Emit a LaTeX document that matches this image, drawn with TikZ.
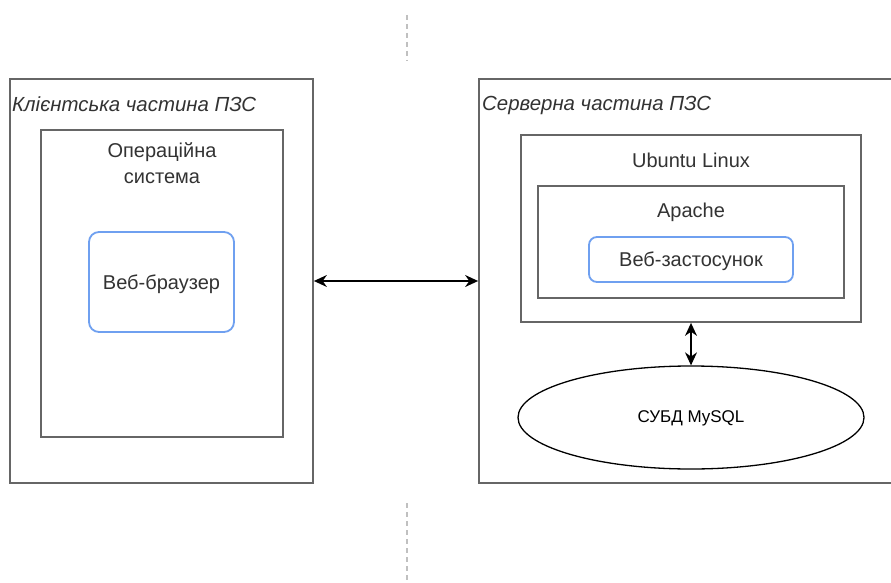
\documentclass[tikz,border=0pt]{standalone}
\usepackage{fontspec}
\setmainfont{Liberation Sans}
\usetikzlibrary{arrows.meta,shapes.geometric}
\definecolor{boxgray}{HTML}{666666}
\definecolor{txtgray}{HTML}{333333}
\definecolor{blueline}{HTML}{6FA0F0}
\definecolor{dashgray}{HTML}{C0C0C0}
\tikzset{
  box/.style={draw=boxgray, line width=1.8pt, rectangle, inner sep=0pt},
  bluebox/.style={draw=blueline, line width=1.8pt, rectangle, rounded corners=10pt, inner sep=0pt, fill=white},
  lbl/.style={text=txtgray, font=\fontsize{20}{26}\selectfont, inner sep=0pt, align=center},
  ilbl/.style={text=txtgray, font=\fontsize{20.4}{24}\selectfont\itshape, inner sep=0pt, anchor=west},
  conn/.style={draw=black, line width=1.3pt, {Stealth[length=13pt,width=12pt]}-{Stealth[length=13pt,width=12pt]}},
  sep/.style={draw=dashgray, line width=1.2pt, dash pattern=on 5pt off 4pt}
}
\begin{document}
\begin{tikzpicture}[x=1pt,y=-1pt]
\useasboundingbox (0,0) rectangle (891,583);
\clip (0,0) rectangle (891,583);
\fill[white] (0,0) rectangle (891,583);

% separators
\coordinate (t1) at (407,15);
\coordinate (t2) at (407,61);
\coordinate (b1) at (407,503);
\coordinate (b2) at (407,580);
\draw[sep] (t1) -- (t2);
\draw[sep] (b1) -- (b2);

% client side
\node[box, minimum width=303pt, minimum height=404pt] (client) at (161.5,281) {};
\node[ilbl] (clientlbl) at (12,104) {Клієнтська частина ПЗС};
\node[box, minimum width=242pt, minimum height=307pt] (os) at (162,283.5) {};
\node[lbl] (oslbl) at (162,163) {Операційна\\система};
\node[bluebox, minimum width=145pt, minimum height=100pt] (browser) at (161.5,282) {};
\node[lbl] (browserlbl) at (161.5,284) {Веб-браузер};

% server side
\node[box, minimum width=426pt, minimum height=404pt] (server) at (692,281) {};
\node[ilbl] (serverlbl) at (482,105) {Серверна частина ПЗС};
\node[box, minimum width=340pt, minimum height=187pt] (ubuntu) at (691,228.5) {};
\node[lbl] (ubuntulbl) at (691,160) {Ubuntu Linux};
\node[box, minimum width=306pt, minimum height=112pt] (apache) at (691,242) {};
\node[lbl] (apachelbl) at (691,212) {Apache};
\node[bluebox, rounded corners=8pt, minimum width=204pt, minimum height=45pt] (app) at (691,259.5) {};
\node[lbl] (applbl) at (691,261) {Веб-застосунок};
\node[draw=black, line width=1.3pt, ellipse, minimum width=346pt, minimum height=103pt, inner sep=0pt] (db) at (691,417.5) {};
\node[text=black, font=\fontsize{17}{20}\selectfont, inner sep=0pt] (dblbl) at (691,418) {СУБД MySQL};

% connectors
\draw[conn] (client.east) -- (server.west);
\draw[conn] (ubuntu.south) -- (db.north);
\end{tikzpicture}
\end{document}
